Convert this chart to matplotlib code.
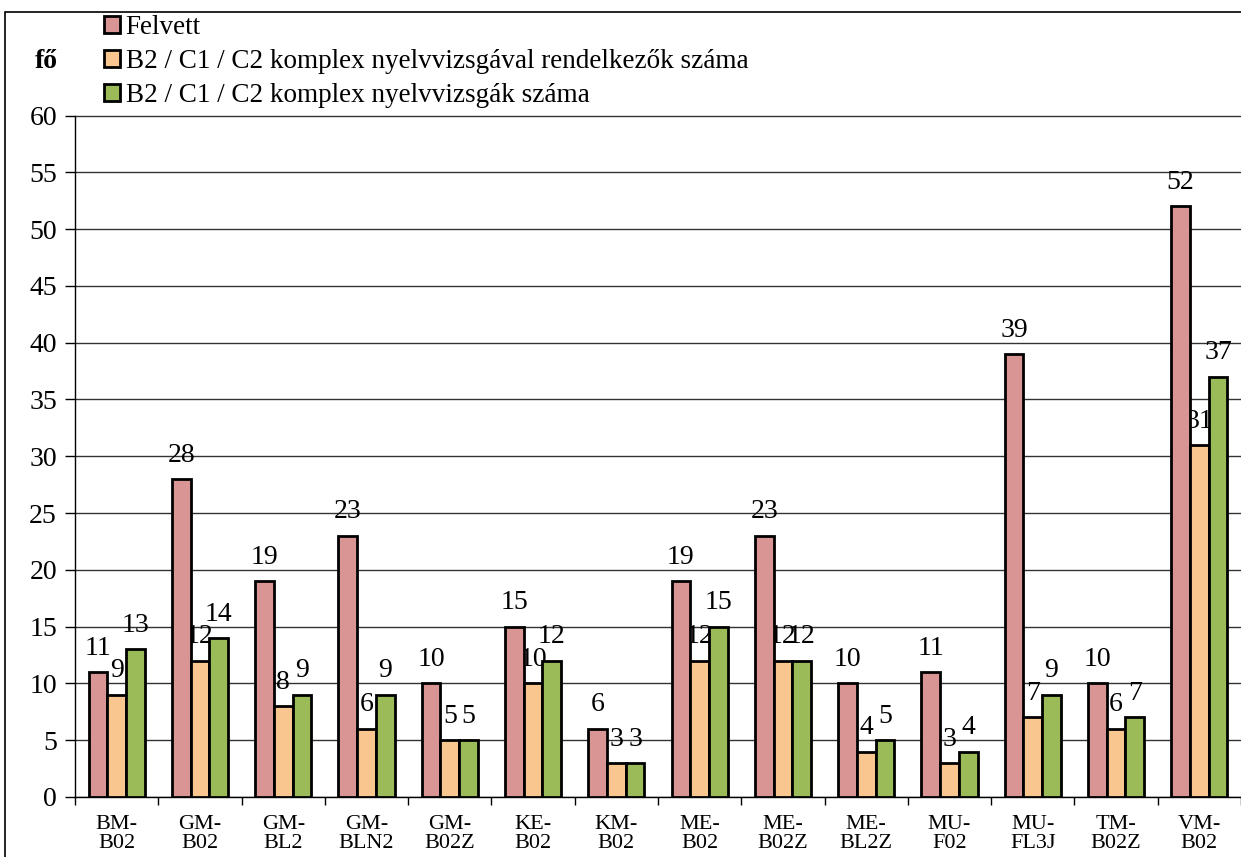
import numpy as np
import matplotlib
matplotlib.use("Agg")
import matplotlib.pyplot as plt
from matplotlib.patches import Patch, Rectangle

plt.rcParams['font.family'] = ['Liberation Serif', 'DejaVu Serif']

categories = ["BM-\nB02", "GM-\nB02", "GM-\nBL2", "GM-\nBLN2", "GM-\nB02Z", "KE-\nB02", "KM-\nB02",
              "ME-\nB02", "ME-\nB02Z", "ME-\nBL2Z", "MU-\nF02", "MU-\nFL3J", "TM-\nB02Z", "VM-\nB02"]
felvett = [11, 28, 19, 23, 10, 15, 6, 19, 23, 10, 11, 39, 10, 52]
rendelkezok = [9, 12, 8, 6, 5, 10, 3, 12, 12, 4, 3, 7, 6, 31]
vizsgak = [13, 14, 9, 9, 5, 12, 3, 15, 12, 5, 4, 9, 7, 37]
series_names = ["Felvett",
                "B2 / C1 / C2 komplex nyelvvizsgával rendelkezők száma",
                "B2 / C1 / C2 komplex nyelvvizsgák száma"]
colors = ["#D99594", "#FAC68F", "#9BBB59"]

fig = plt.figure(figsize=(12.41, 8.57), dpi=100)
ax = fig.add_axes([75 / 1241, 1 - 797 / 857, 1 - 75 / 1241, (797 - 115.5) / 857])

x = np.arange(len(categories))
w = 0.225
for i, (vals, c) in enumerate(zip([felvett, rendelkezok, vizsgak], colors)):
    pos = x + (i - 1) * w
    ax.bar(pos, vals, width=w, color=c, edgecolor='black', linewidth=2, zorder=3)
    for p, v in zip(pos, vals):
        ax.text(p, v + 1.0, str(v), ha='center', va='bottom', fontsize=20, zorder=2)

ax.set_xlim(-0.5, len(categories) - 0.5)
ax.set_ylim(0, 60)
ax.set_yticks(np.arange(0, 61, 5))
ax.tick_params(axis='y', labelsize=20, length=7, width=1, direction='out', pad=6)
ax.yaxis.grid(True, color='#333333', linewidth=1, zorder=0)
ax.set_axisbelow(True)

ax.set_xticks(x)
ax.set_xticklabels(categories, fontsize=16, linespacing=1.0)
ax.tick_params(axis='x', which='major', length=0, pad=13)
ax.set_xticks(np.arange(-0.5, len(categories), 1), minor=True)
ax.tick_params(axis='x', which='minor', length=6, width=1)

for s in ['top', 'right']:
    ax.spines[s].set_visible(False)
ax.spines['left'].set_linewidth(1)
ax.spines['bottom'].set_linewidth(1)

handles = [Patch(facecolor=c, edgecolor='black', linewidth=2) for c in colors]
fig.legend(handles, series_names, loc='upper left', bbox_to_anchor=(104 / 1241, 1 - 15 / 857),
           frameon=False, fontsize=19.5, handlelength=0.6, handleheight=0.6,
           handletextpad=0.2, labelspacing=0.33, borderaxespad=0, borderpad=0)

fig.text(35 / 1241, 1 - 62 / 857, "fő", fontsize=20, fontweight='bold', va='center', ha='left')

fig.patches.append(Rectangle((5 / 1241, -0.1), 2, 1.1 - 12 / 857, transform=fig.transFigure,
                             fill=False, edgecolor='black', linewidth=1.2))

fig.savefig("out.png", dpi=100)
